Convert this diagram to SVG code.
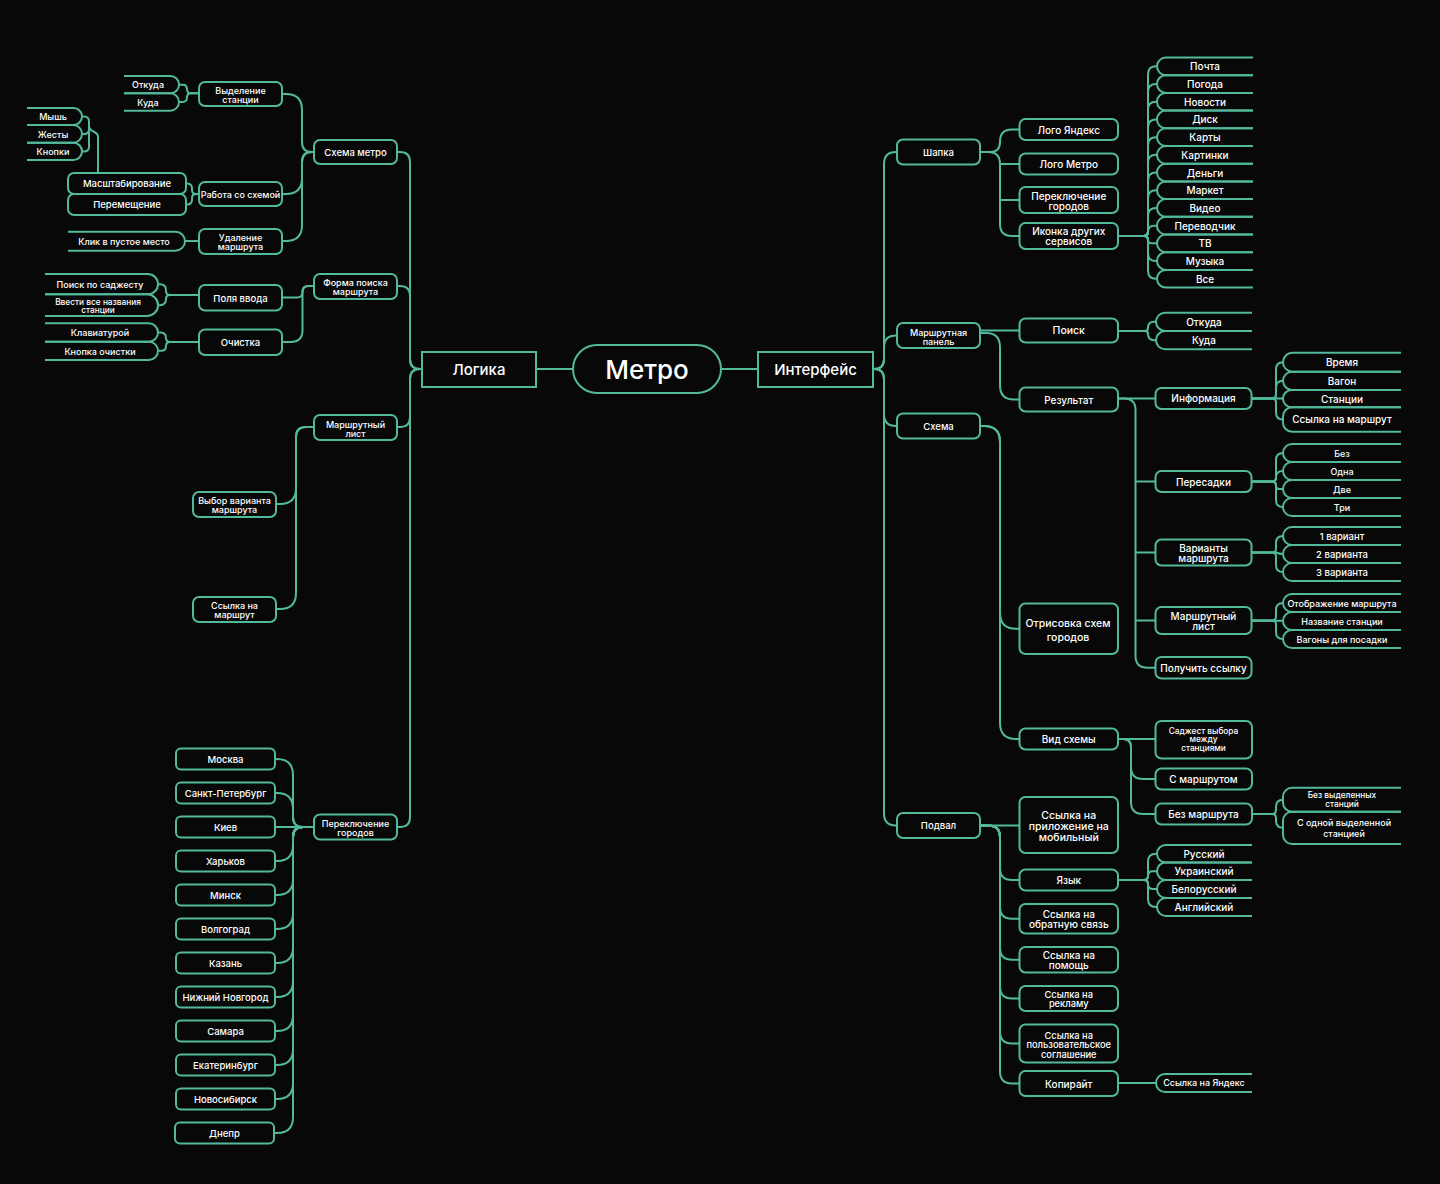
<svg xmlns="http://www.w3.org/2000/svg" width="1440" height="1184" viewBox="0 0 1440 1184">
<style>
.bg{fill:#080808}
.n{fill:#080808;stroke:#52b99c;stroke-width:2}
.lf{fill:none;stroke:#52b99c;stroke-width:2}
#connectors path{fill:none;stroke:#52b99c;stroke-width:2}
text{font-family:Inter,"Noto Sans","Liberation Sans",sans-serif;font-weight:500;font-size:10px;fill:#ffffff;text-anchor:middle;dominant-baseline:central}
.s8{font-size:8.3px}
.s9{font-size:9px}
.s93{font-size:9.3px}
.s95{font-size:9.5px}
.s105{font-size:10.5px}
.big{font-size:15px}
.title{font-size:26px}
</style>
<rect class="bg" x="0" y="0" width="1440" height="1184"/>

<!-- connectors -->
<g id="connectors">
  <!-- centre -->
  <path d="M536,369 H573"/>
  <path d="M721,369 H758"/>
  <!-- Логика branches -->
  <path d="M422,369 H420 Q410,369 410,359 V162 Q410,152 400,152 H397"/>
  <path d="M422,369 H420 Q410,369 410,359 V296 Q410,286 400,286 H397"/>
  <path d="M422,369 H420 Q410,369 410,379 V417 Q410,427 400,427 H397"/>
  <path d="M422,369 H420 Q410,369 410,379 V817 Q410,827 400,827 H397"/>
  <!-- Схема метро -->
  <path d="M314,152 H312 Q302,152 302,142 V110 Q302,94 286,94 H282"/>
  <path d="M314,152 H312 Q302,152 302,162 V178 Q302,194 286,194 H282"/>
  <path d="M314,152 H312 Q302,152 302,162 V225 Q302,241 286,241 H282"/>
  <path d="M199,93.3 H191 Q187,93.3 187,89 Q187,84.65 182.5,84.65 H179"/>
  <path d="M199,93.3 H191 Q187,93.3 187,97.6 Q187,102 182.5,102 H179"/>
  <path d="M199,194 H196 Q192,194 192,190 V188.5 Q192,183.5 187,183.5 H186"/>
  <path d="M199,194 H196 Q192,194 192,198 V199.5 Q192,204.5 187,204.5 H186"/>
  <path d="M98,173 V137 C98,130 89,133 89,126"/>
  <path d="M89,126 V121.5 Q89,116.5 84,116.5 H82"/>
  <path d="M89,126 V129 Q89,134 84,134 H82"/>
  <path d="M89,126 V146.5 Q89,151.5 84,151.5 H82"/>
  <path d="M199,241 H185"/>
  <!-- Форма поиска маршрута -->
  <path d="M314,286 H308.5 Q302.5,286 302.5,292 Q302.5,297.5 297,297.5 H282"/>
  <path d="M314,286 H308.5 Q302.5,286 302.5,292 V330 Q302.5,342 290.5,342 H282"/>
  <path d="M199,295 H170 Q166,295 166,291 V290.15 Q166,284.15 160,284.15 H158"/>
  <path d="M199,295 H170 Q166,295 166,299 Q166,305.15 160,305.15 H158"/>
  <path d="M199,342 H170 Q166,342 166,338 Q166,332.5 160.5,332.5 H158"/>
  <path d="M199,342 H170 Q166,342 166,346 Q166,350.85 161.15,350.85 H158"/>
  <!-- Маршрутный лист (left) -->
  <path d="M314,427 H306 Q296,427 296,437 V488 Q296,504 280,504 H276"/>
  <path d="M314,427 H306 Q296,427 296,437 V593 Q296,609 280,609 H276"/>
  <!-- Переключение городов (left) -->
  <path d="M314,827 H303 Q293,827 293,817 V775 Q293,759 277,759 H275"/>
  <path d="M314,827 H303 Q293,827 293,817 V809 Q293,793 277,793 H275"/>
  <path d="M314,827 H275"/>
  <path d="M314,827 H303 Q293,827 293,837 V845 Q293,861 277,861 H275"/>
  <path d="M314,827 H303 Q293,827 293,837 V879 Q293,895 277,895 H275"/>
  <path d="M314,827 H303 Q293,827 293,837 V913 Q293,929 277,929 H275"/>
  <path d="M314,827 H303 Q293,827 293,837 V947 Q293,963 277,963 H275"/>
  <path d="M314,827 H303 Q293,827 293,837 V981 Q293,997 277,997 H275"/>
  <path d="M314,827 H303 Q293,827 293,837 V1015 Q293,1031 277,1031 H275"/>
  <path d="M314,827 H303 Q293,827 293,837 V1049 Q293,1065 277,1065 H275"/>
  <path d="M314,827 H303 Q293,827 293,837 V1083 Q293,1099 277,1099 H275"/>
  <path d="M314,827 H303 Q293,827 293,837 V1117 Q293,1133 277,1133 H275"/>

  <!-- Интерфейс branches -->
  <path d="M873,369 H874 Q884,369 884,359 V164 Q884,152 896,152 H897"/>
  <path d="M873,369 H874 Q884,369 884,359 V347.5 Q884,335.5 896,335.5 H897"/>
  <path d="M873,369 H874 Q884,369 884,379 V414 Q884,426 896,426 H897"/>
  <path d="M873,369 H874 Q884,369 884,379 V813.5 Q884,825.5 896,825.5 H897"/>
  <!-- Шапка -->
  <path d="M980,152 H990 Q1000,152 1000,142 V141.5 Q1000,129.5 1012,129.5 H1019.5"/>
  <path d="M980,152 H988 Q1000,152 1000,164 V224 Q1000,236 1012,236 H1019.5"/>
  <path d="M1000,164 H1019.5"/>
  <path d="M1000,200 H1019.5"/>
  <!-- Иконка других сервисов -->
  <path d="M1118,236 H1144 Q1148,236 1148,232 V74.35 Q1148,66.35 1156,66.35 H1157"/>
  <path d="M1118,236 H1144 Q1148,236 1148,232 V92.05 Q1148,84.05 1156,84.05 H1157"/>
  <path d="M1118,236 H1144 Q1148,236 1148,232 V109.75 Q1148,101.75 1156,101.75 H1157"/>
  <path d="M1118,236 H1144 Q1148,236 1148,232 V127.45 Q1148,119.45 1156,119.45 H1157"/>
  <path d="M1118,236 H1144 Q1148,236 1148,232 V145.15 Q1148,137.15 1156,137.15 H1157"/>
  <path d="M1118,236 H1144 Q1148,236 1148,232 V162.85 Q1148,154.85 1156,154.85 H1157"/>
  <path d="M1118,236 H1144 Q1148,236 1148,232 V180.55 Q1148,172.55 1156,172.55 H1157"/>
  <path d="M1118,236 H1144 Q1148,236 1148,232 V198.25 Q1148,190.25 1156,190.25 H1157"/>
  <path d="M1118,236 H1144 Q1148,236 1148,232 V215.95 Q1148,207.95 1156,207.95 H1157"/>
  <path d="M1118,236 H1144 Q1148,236 1148,232 Q1148,225.65 1154.35,225.65 H1157"/>
  <path d="M1118,236 H1144 Q1148,236 1148,240 Q1148,243.35 1151.35,243.35 H1157"/>
  <path d="M1118,236 H1144 Q1148,236 1148,240 V253.05 Q1148,261.05 1156,261.05 H1157"/>
  <path d="M1118,236 H1144 Q1148,236 1148,240 V270.75 Q1148,278.75 1156,278.75 H1157"/>
  <!-- Маршрутная панель -->
  <path d="M980,330.5 H1019.5"/>
  <path d="M980,333 H986 Q1000,333 1000,347 V385.5 Q1000,399.5 1014,399.5 H1019.5"/>
  <path d="M1118,331 H1145 Q1148,331 1148,328 Q1148,321.85 1154,321.85 H1156"/>
  <path d="M1118,331 H1145 Q1148,331 1148,334 Q1148,340.15 1154,340.15 H1156"/>
  <!-- Результат -->
  <path d="M1118,398.5 H1155.5"/>
  <path d="M1118,398.5 H1124 Q1135.5,398.5 1135.5,410 V655.75 Q1135.5,667.75 1147.5,667.75 H1155.5"/>
  <path d="M1135.5,481.5 H1155.5"/>
  <path d="M1135.5,552.5 H1155.5"/>
  <path d="M1135.5,620.5 H1155.5"/>
  <!-- Информация -->
  <path d="M1251.5,398.5 H1272 Q1276,398.5 1276,394.5 V369.2 Q1276,362.2 1283,362.2"/>
  <path d="M1251.5,398.5 H1272 Q1276,398.5 1276,394.5 V387.85 Q1276,380.85 1283,380.85"/>
  <path d="M1251.5,398.5 H1283"/>
  <path d="M1251.5,398.5 H1272 Q1276,398.5 1276,402.5 V412.5 Q1276,419.5 1283,419.5"/>
  <!-- Пересадки -->
  <path d="M1251.5,481.5 H1272 Q1276,481.5 1276,477.5 V460 Q1276,453 1283,453"/>
  <path d="M1251.5,481.5 H1272 Q1276,481.5 1276,477.5 Q1276,471 1282.5,471 H1283"/>
  <path d="M1251.5,481.5 H1272 Q1276,481.5 1276,485.5 Q1276,489 1279.5,489 H1283"/>
  <path d="M1251.5,481.5 H1272 Q1276,481.5 1276,485.5 V500 Q1276,507 1283,507"/>
  <!-- Варианты маршрута -->
  <path d="M1251.5,552.5 H1272 Q1276,552.5 1276,548.5 V543 Q1276,536 1283,536"/>
  <path d="M1251.5,552.5 H1276 Q1279.5,554 1283,554"/>
  <path d="M1251.5,552.5 H1272 Q1276,552.5 1276,556.5 V565 Q1276,572 1283,572"/>
  <!-- Маршрутный лист (right) -->
  <path d="M1251.5,620.5 H1272 Q1276,620.5 1276,616.5 V610 Q1276,603 1283,603"/>
  <path d="M1251.5,620.75 H1283"/>
  <path d="M1251.5,620.5 H1272 Q1276,620.5 1276,624.5 V632 Q1276,639 1283,639"/>
  <!-- Схема -->
  <path d="M980,426 H984 Q1000,426 1000,442 V612.7 Q1000,628.7 1016,628.7 H1019.5"/>
  <path d="M980,426 H984 Q1000,426 1000,442 V723 Q1000,739 1016,739 H1019.5"/>
  <!-- Вид схемы -->
  <path d="M1118,739 H1155.5"/>
  <path d="M1118,739 H1123 Q1131,739 1131,747 V767 Q1131,779 1143,779 H1155.5"/>
  <path d="M1118,739 H1123 Q1131,739 1131,747 V802 Q1131,814 1143,814 H1155.5"/>
  <path d="M1252,814 H1272 Q1276,814 1276,810 V806.7 Q1276,799.7 1283,799.7"/>
  <path d="M1252,814 H1272 Q1276,814 1276,818 V820.85 Q1276,827.85 1283,827.85"/>
  <!-- Подвал -->
  <path d="M980,825.5 H1019.5"/>
  <path d="M980,825.5 H988 Q1000,825.5 1000,837.5 V868 Q1000,880 1012,880 H1019.5"/>
  <path d="M980,825.5 H988 Q1000,825.5 1000,837.5 V906.7 Q1000,918.7 1012,918.7 H1019.5"/>
  <path d="M980,825.5 H988 Q1000,825.5 1000,837.5 V947.7 Q1000,959.7 1012,959.7 H1019.5"/>
  <path d="M980,825.5 H988 Q1000,825.5 1000,837.5 V986.5 Q1000,998.5 1012,998.5 H1019.5"/>
  <path d="M980,825.5 H988 Q1000,825.5 1000,837.5 V1031.5 Q1000,1043.5 1012,1043.5 H1019.5"/>
  <path d="M980,825.5 H988 Q1000,825.5 1000,837.5 V1071.5 Q1000,1083.5 1012,1083.5 H1019.5"/>
  <!-- Язык -->
  <path d="M1118,880 H1144 Q1148,880 1148,876 V861.75 Q1148,853.75 1156,853.75 H1157"/>
  <path d="M1118,880 H1144 Q1148,880 1148,876 Q1148,871.25 1152.75,871.25 H1157"/>
  <path d="M1118,880 H1144 Q1148,880 1148,884 Q1148,889 1153,889 H1157"/>
  <path d="M1118,880 H1144 Q1148,880 1148,884 V899 Q1148,907 1156,907 H1157"/>
  <!-- Копирайт -->
  <path d="M1118,1083 H1156"/>
</g>

<!-- root and main branches -->
<g id="metro"><rect class="n" x="573" y="345" width="148" height="48" rx="24"/><text class="title" x="647" y="369">Метро</text></g>
<g id="logic"><rect class="n" x="422" y="352" width="114" height="35"/><text class="big" x="479" y="369.5">Логика</text></g>
<g id="interface"><rect class="n" x="758" y="352" width="115" height="35"/><text class="big" x="815.5" y="369.5">Интерфейс</text></g>

<!-- Логика: level 1 -->
<g id="l-scheme"><rect class="n" x="314" y="140" width="83" height="24" rx="6"/><text class="s95" x="355.5" y="152">Схема метро</text></g>
<g id="l-form"><rect class="n" x="314" y="274" width="83" height="25" rx="6"/><text class="s9"><tspan x="355.5" y="282">Форма поиска</tspan><tspan x="355.5" y="291">маршрута</tspan></text></g>
<g id="l-sheet"><rect class="n" x="314" y="415" width="83" height="25" rx="6"/><text class="s9"><tspan x="355.5" y="423.5">Маршрутный</tspan><tspan x="355.5" y="432.5">лист</tspan></text></g>
<g id="l-cities"><rect class="n" x="314" y="814.5" width="83" height="25" rx="6"/><text class="s9"><tspan x="355.5" y="822.5">Переключение</tspan><tspan x="355.5" y="831.5">городов</tspan></text></g>

<!-- Схема метро children -->
<g id="l-select"><rect class="n" x="199" y="82" width="83" height="24" rx="6"/><text class="s9"><tspan x="240.5" y="89.5">Выделение</tspan><tspan x="240.5" y="98.5">станции</tspan></text></g>
<g id="l-work"><rect class="n" x="199" y="182" width="83" height="24" rx="6"/><text class="s9" x="240.5" y="194">Работа со схемой</text></g>
<g id="l-delete"><rect class="n" x="199" y="229" width="83" height="25" rx="6"/><text class="s9"><tspan x="240.5" y="237">Удаление</tspan><tspan x="240.5" y="246">маршрута</tspan></text></g>
<g id="l-from"><path class="lf" d="M124,76 H170.35 A8.65 8.65 0 0 1 170.35,93.3 H124"/><text class="s9" x="148" y="84.65">Откуда</text></g>
<g id="l-to"><path class="lf" d="M124,93.3 H170.3 A8.7 8.7 0 0 1 170.3,110.7 H124"/><text class="s9" x="148" y="102">Куда</text></g>
<g id="l-zoom"><rect class="n" x="68" y="173" width="118" height="21" rx="6"/><text class="s95" x="127" y="183.5">Масштабирование</text></g>
<g id="l-move"><rect class="n" x="68" y="194" width="118" height="21" rx="6"/><text class="s95" x="127" y="204.5">Перемещение</text></g>
<g id="l-mouse"><path class="lf" d="M27,108 H73.5 A8.5 8.5 0 0 1 73.5,125 H27"/><text class="s9" x="53" y="116.5">Мышь</text></g>
<g id="l-gestures"><path class="lf" d="M27,125 H73.15 A8.85 8.85 0 0 1 73.15,142.7 H27"/><text class="s9" x="53" y="134">Жесты</text></g>
<g id="l-buttons"><path class="lf" d="M27,142.7 H73.35 A8.65 8.65 0 0 1 73.35,160 H27"/><text class="s9" x="53" y="151.5">Кнопки</text></g>
<g id="l-click"><path class="lf" d="M68,231.7 H175.5 A9.5 9.5 0 0 1 175.5,250.7 H68"/><text class="s9" x="124" y="241.5">Клик в пустое место</text></g>

<!-- Форма поиска children -->
<g id="l-fields"><rect class="n" x="199" y="285" width="83" height="25.5" rx="6"/><text class="s95" x="240.5" y="298">Поля ввода</text></g>
<g id="l-clear"><rect class="n" x="199" y="329.5" width="83" height="25.5" rx="6"/><text class="s95" x="240.5" y="342.5">Очистка</text></g>
<g id="l-suggest"><path class="lf" d="M45,274 H147.85 A10.15 10.15 0 0 1 147.85,294.3 H45"/><text class="s9" x="100" y="284.5">Поиск по саджесту</text></g>
<g id="l-typeall"><path class="lf" d="M45,294.3 H147.15 A10.85 10.85 0 0 1 147.15,316 H45"/><text class="s8"><tspan x="98" y="301.5">Ввести все названия</tspan><tspan x="98" y="310">станции</tspan></text></g>
<g id="l-keyboard"><path class="lf" d="M45,323.3 H148.8 A9.2 9.2 0 0 1 148.8,341.7 H45"/><text class="s9" x="100" y="332.5">Клавиатурой</text></g>
<g id="l-clearbtn"><path class="lf" d="M45,341.7 H148.85 A9.15 9.15 0 0 1 148.85,360 H45"/><text class="s9" x="100" y="351">Кнопка очистки</text></g>

<!-- Маршрутный лист children -->
<g id="l-variant"><rect class="n" x="193" y="492" width="83" height="25" rx="6"/><text class="s9"><tspan x="234.5" y="500">Выбор варианта</tspan><tspan x="234.5" y="509">маршрута</tspan></text></g>
<g id="l-link"><rect class="n" x="193" y="597" width="83" height="25" rx="6"/><text class="s9"><tspan x="234.5" y="604.5">Ссылка на</tspan><tspan x="234.5" y="613.5">маршрут</tspan></text></g>

<!-- cities -->
<g id="c-msk"><rect class="n" x="176" y="748.5" width="99" height="21" rx="5"/><text class="s95" x="225.5" y="759">Москва</text></g>
<g id="c-spb"><rect class="n" x="176" y="782.5" width="99" height="21" rx="5"/><text class="s95" x="225.5" y="793">Санкт-Петербург</text></g>
<g id="c-kiev"><rect class="n" x="176" y="816.5" width="99" height="21" rx="5"/><text class="s95" x="225.5" y="827">Киев</text></g>
<g id="c-kharkov"><rect class="n" x="176" y="850.5" width="99" height="21" rx="5"/><text class="s95" x="225.5" y="861">Харьков</text></g>
<g id="c-minsk"><rect class="n" x="176" y="884.5" width="99" height="21" rx="5"/><text class="s95" x="225.5" y="895">Минск</text></g>
<g id="c-volgograd"><rect class="n" x="176" y="918.5" width="99" height="21" rx="5"/><text class="s95" x="225.5" y="929">Волгоград</text></g>
<g id="c-kazan"><rect class="n" x="176" y="952.5" width="99" height="21" rx="5"/><text class="s95" x="225.5" y="963">Казань</text></g>
<g id="c-nn"><rect class="n" x="176" y="986.5" width="99" height="21" rx="5"/><text class="s95" x="225.5" y="997">Нижний Новгород</text></g>
<g id="c-samara"><rect class="n" x="176" y="1020.5" width="99" height="21" rx="5"/><text class="s95" x="225.5" y="1031">Самара</text></g>
<g id="c-ekb"><rect class="n" x="176" y="1054.5" width="99" height="21" rx="5"/><text class="s95" x="225.5" y="1065">Екатеринбург</text></g>
<g id="c-nsk"><rect class="n" x="176" y="1088.5" width="99" height="21" rx="5"/><text class="s95" x="225.5" y="1099">Новосибирск</text></g>
<g id="c-dnepr"><rect class="n" x="175" y="1122.5" width="99" height="21" rx="5"/><text class="s95" x="224.5" y="1133">Днепр</text></g>

<!-- Интерфейс: level 1 -->
<g id="r-header"><rect class="n" x="897" y="139.5" width="83" height="25" rx="6"/><text class="s95" x="938.5" y="152">Шапка</text></g>
<g id="r-panel"><rect class="n" x="897" y="323" width="83" height="25" rx="6"/><text class="s9"><tspan x="938.5" y="331.5">Маршрутная</tspan><tspan x="938.5" y="340.5">панель</tspan></text></g>
<g id="r-scheme"><rect class="n" x="897" y="413.5" width="83" height="25" rx="6"/><text class="s95" x="938.5" y="426">Схема</text></g>
<g id="r-footer"><rect class="n" x="897" y="813" width="83" height="25" rx="6"/><text class="s95" x="938.5" y="825.5">Подвал</text></g>

<!-- Шапка children -->
<g id="r-logo-ya"><rect class="n" x="1019.5" y="119" width="98.5" height="21" rx="6"/><text x="1068.75" y="129.5">Лого Яндекс</text></g>
<g id="r-logo-metro"><rect class="n" x="1019.5" y="153.5" width="98.5" height="21" rx="6"/><text x="1068.75" y="164">Лого Метро</text></g>
<g id="r-citysw"><rect class="n" x="1019.5" y="187" width="98.5" height="26" rx="6"/><text><tspan x="1068.75" y="195.5">Переключение</tspan><tspan x="1068.75" y="205.5">городов</tspan></text></g>
<g id="r-services"><rect class="n" x="1019.5" y="223" width="98.5" height="26" rx="6"/><text><tspan x="1068.75" y="231">Иконка других</tspan><tspan x="1068.75" y="241">сервисов</tspan></text></g>

<!-- services -->
<g id="s-mail"><path class="lf" d="M1253,57.5 H1165.85 A8.85 8.85 0 0 0 1165.85,75.2 H1253"/><text x="1205" y="66.35">Почта</text></g>
<g id="s-weather"><path class="lf" d="M1253,75.2 H1165.85 A8.85 8.85 0 0 0 1165.85,92.9 H1253"/><text x="1205" y="84.05">Погода</text></g>
<g id="s-news"><path class="lf" d="M1253,92.9 H1165.85 A8.85 8.85 0 0 0 1165.85,110.6 H1253"/><text x="1205" y="101.75">Новости</text></g>
<g id="s-disk"><path class="lf" d="M1253,110.6 H1165.85 A8.85 8.85 0 0 0 1165.85,128.3 H1253"/><text x="1205" y="119.45">Диск</text></g>
<g id="s-maps"><path class="lf" d="M1253,128.3 H1165.85 A8.85 8.85 0 0 0 1165.85,146 H1253"/><text x="1205" y="137.15">Карты</text></g>
<g id="s-images"><path class="lf" d="M1253,146 H1165.85 A8.85 8.85 0 0 0 1165.85,163.7 H1253"/><text x="1205" y="154.85">Картинки</text></g>
<g id="s-money"><path class="lf" d="M1253,163.7 H1165.85 A8.85 8.85 0 0 0 1165.85,181.4 H1253"/><text x="1205" y="172.55">Деньги</text></g>
<g id="s-market"><path class="lf" d="M1253,181.4 H1165.85 A8.85 8.85 0 0 0 1165.85,199.1 H1253"/><text x="1205" y="190.25">Маркет</text></g>
<g id="s-video"><path class="lf" d="M1253,199.1 H1165.85 A8.85 8.85 0 0 0 1165.85,216.8 H1253"/><text x="1205" y="207.95">Видео</text></g>
<g id="s-translate"><path class="lf" d="M1253,216.8 H1165.85 A8.85 8.85 0 0 0 1165.85,234.5 H1253"/><text x="1205" y="225.65">Переводчик</text></g>
<g id="s-tv"><path class="lf" d="M1253,234.5 H1165.85 A8.85 8.85 0 0 0 1165.85,252.2 H1253"/><text x="1205" y="243.35">ТВ</text></g>
<g id="s-music"><path class="lf" d="M1253,252.2 H1165.85 A8.85 8.85 0 0 0 1165.85,269.9 H1253"/><text x="1205" y="261.05">Музыка</text></g>
<g id="s-all"><path class="lf" d="M1253,269.9 H1165.85 A8.85 8.85 0 0 0 1165.85,287.6 H1253"/><text x="1205" y="278.75">Все</text></g>

<!-- Маршрутная панель children -->
<g id="r-search"><rect class="n" x="1019.5" y="318.5" width="98.5" height="24" rx="6"/><text class="s105" x="1068.75" y="330.5">Поиск</text></g>
<g id="r-from"><path class="lf" d="M1252,312.7 H1165.15 A9.15 9.15 0 0 0 1165.15,331 H1252"/><text x="1204" y="321.85">Откуда</text></g>
<g id="r-to"><path class="lf" d="M1252,331 H1165.15 A9.15 9.15 0 0 0 1165.15,349.3 H1252"/><text x="1204" y="340.15">Куда</text></g>
<g id="r-result"><rect class="n" x="1019.5" y="387.5" width="98.5" height="24" rx="6"/><text x="1068.75" y="399.5">Результат</text></g>

<!-- Результат children -->
<g id="r-info"><rect class="n" x="1155.5" y="388" width="96" height="21" rx="6"/><text x="1203.5" y="397.5">Информация</text></g>
<g id="i-time"><path class="lf" d="M1401,352.7 H1292.5 A9.5 9.5 0 0 0 1292.5,371.7 H1401"/><text x="1342" y="362.2">Время</text></g>
<g id="i-car"><path class="lf" d="M1401,371.7 H1292.15 A9.15 9.15 0 0 0 1292.15,390 H1401"/><text x="1342" y="380.85">Вагон</text></g>
<g id="i-stations"><path class="lf" d="M1401,390 H1291.65 A8.65 8.65 0 0 0 1291.65,407.3 H1401"/><text x="1342" y="398.65">Станции</text></g>
<g id="i-link"><path class="lf" d="M1401,407.3 H1292 A9 9 0 0 0 1283,416.3 V422.7 A9 9 0 0 0 1292,431.7 H1401"/><text x="1342" y="419">Ссылка на маршрут</text></g>

<g id="r-transfers"><rect class="n" x="1155.5" y="471" width="96" height="21" rx="6"/><text x="1203.5" y="481.5">Пересадки</text></g>
<g id="t-none"><path class="lf" d="M1401,444 H1292 A9 9 0 0 0 1292,462 H1401"/><text class="s9" x="1342" y="453">Без</text></g>
<g id="t-one"><path class="lf" d="M1401,462 H1292 A9 9 0 0 0 1292,480 H1401"/><text class="s9" x="1342" y="471">Одна</text></g>
<g id="t-two"><path class="lf" d="M1401,480 H1292 A9 9 0 0 0 1292,498 H1401"/><text class="s9" x="1342" y="489">Две</text></g>
<g id="t-three"><path class="lf" d="M1401,498 H1292 A9 9 0 0 0 1292,516 H1401"/><text class="s9" x="1342" y="507">Три</text></g>

<g id="r-variants"><rect class="n" x="1155.5" y="539.5" width="96" height="26" rx="6"/><text><tspan x="1203.5" y="548">Варианты</tspan><tspan x="1203.5" y="557.5">маршрута</tspan></text></g>
<g id="v-1"><path class="lf" d="M1401,527 H1292 A9 9 0 0 0 1292,545 H1401"/><text class="s95" x="1342" y="536">1 вариант</text></g>
<g id="v-2"><path class="lf" d="M1401,545 H1292 A9 9 0 0 0 1292,563 H1401"/><text class="s95" x="1342" y="554">2 варианта</text></g>
<g id="v-3"><path class="lf" d="M1401,563 H1292 A9 9 0 0 0 1292,581 H1401"/><text class="s95" x="1342" y="572">3 варианта</text></g>

<g id="r-sheet"><rect class="n" x="1155.5" y="607" width="96" height="27" rx="6"/><text><tspan x="1203.5" y="615.5">Маршрутный</tspan><tspan x="1203.5" y="625.5">лист</tspan></text></g>
<g id="m-route"><path class="lf" d="M1401,594 H1292 A9 9 0 0 0 1292,612 H1401"/><text class="s9" x="1342" y="603">Отображение маршрута</text></g>
<g id="m-station"><path class="lf" d="M1401,612 H1292 A9 9 0 0 0 1292,630 H1401"/><text class="s9" x="1342" y="621">Название станции</text></g>
<g id="m-cars"><path class="lf" d="M1401,630 H1292 A9 9 0 0 0 1292,648 H1401"/><text class="s9" x="1342" y="639">Вагоны для посадки</text></g>

<g id="r-getlink"><rect class="n" x="1155.5" y="657" width="96" height="21.5" rx="6"/><text x="1203.5" y="667.75">Получить ссылку</text></g>

<!-- Схема children -->
<g id="r-render"><rect class="n" x="1019.5" y="603.5" width="98.5" height="50.5" rx="6"/><text class="s105"><tspan x="1068" y="623">Отрисовка схем</tspan><tspan x="1068" y="636.5">городов</tspan></text></g>
<g id="r-view"><rect class="n" x="1019.5" y="728.5" width="98.5" height="21" rx="6"/><text x="1068.75" y="739">Вид схемы</text></g>
<g id="r-suggest"><rect class="n" x="1155.5" y="721" width="96.5" height="37.5" rx="6"/><text class="s8"><tspan x="1203.5" y="730.5">Саджест выбора</tspan><tspan x="1203.5" y="739">между</tspan><tspan x="1203.5" y="747.5">станциями</tspan></text></g>
<g id="r-withroute"><rect class="n" x="1155.5" y="768.5" width="96.5" height="21" rx="6"/><text x="1203.5" y="779">С маршрутом</text></g>
<g id="r-noroute"><rect class="n" x="1155.5" y="803.5" width="96.5" height="21" rx="6"/><text x="1203.5" y="814">Без маршрута</text></g>
<g id="n-none"><path class="lf" d="M1401,787.7 H1292 A9 9 0 0 0 1283,796.7 V802.7 A9 9 0 0 0 1292,811.7 H1401"/><text class="s8"><tspan x="1342" y="795">Без выделенных</tspan><tspan x="1342" y="804">станций</tspan></text></g>
<g id="n-one"><path class="lf" d="M1401,811.7 H1292 A9 9 0 0 0 1283,820.7 V835 A9 9 0 0 0 1292,844 H1401"/><text class="s9"><tspan x="1344" y="822">С одной выделенной</tspan><tspan x="1344" y="833">станцией</tspan></text></g>

<!-- Подвал children -->
<g id="f-app"><rect class="n" x="1019.5" y="797" width="98.5" height="56" rx="6"/><text class="s105"><tspan x="1068.75" y="814.5">Ссылка на</tspan><tspan x="1068.75" y="825.5">приложение на</tspan><tspan x="1068.75" y="836.5">мобильный</tspan></text></g>
<g id="f-lang"><rect class="n" x="1019.5" y="869.5" width="98.5" height="21" rx="6"/><text x="1068.75" y="880">Язык</text></g>
<g id="f-feedback"><rect class="n" x="1019.5" y="904" width="98.5" height="29.5" rx="6"/><text><tspan x="1068.75" y="913.5">Ссылка на</tspan><tspan x="1068.75" y="923.5">обратную связь</tspan></text></g>
<g id="f-help"><rect class="n" x="1019.5" y="947" width="98.5" height="25.5" rx="6"/><text><tspan x="1068.75" y="955">Ссылка на</tspan><tspan x="1068.75" y="964.5">помощь</tspan></text></g>
<g id="f-ads"><rect class="n" x="1019.5" y="986" width="98.5" height="25" rx="6"/><text class="s93"><tspan x="1068.75" y="993.75">Ссылка на</tspan><tspan x="1068.75" y="1003.25">рекламу</tspan></text></g>
<g id="f-terms"><rect class="n" x="1019.5" y="1024.5" width="98.5" height="38" rx="6"/><text class="s93"><tspan x="1068.75" y="1034.5">Ссылка на</tspan><tspan x="1068.75" y="1044">пользовательское</tspan><tspan x="1068.75" y="1053.5">соглашение</tspan></text></g>
<g id="f-copy"><rect class="n" x="1019.5" y="1071" width="98.5" height="25" rx="6"/><text x="1068.75" y="1083.5">Копирайт</text></g>
<g id="lang-ru"><path class="lf" d="M1252,845 H1165.75 A8.75 8.75 0 0 0 1165.75,862.5 H1252"/><text x="1204" y="853.75">Русский</text></g>
<g id="lang-ua"><path class="lf" d="M1252,862.5 H1165.75 A8.75 8.75 0 0 0 1165.75,880 H1252"/><text x="1204" y="871.25">Украинский</text></g>
<g id="lang-by"><path class="lf" d="M1252,880 H1166 A9 9 0 0 0 1166,898 H1252"/><text x="1204" y="889">Белорусский</text></g>
<g id="lang-en"><path class="lf" d="M1252,898 H1166 A9 9 0 0 0 1166,916 H1252"/><text x="1204" y="907">Английский</text></g>
<g id="f-yandex"><path class="lf" d="M1252,1074 H1165 A9 9 0 0 0 1165,1092 H1252"/><text class="s9" x="1204" y="1082.5">Ссылка на Яндекс</text></g>
</svg>
